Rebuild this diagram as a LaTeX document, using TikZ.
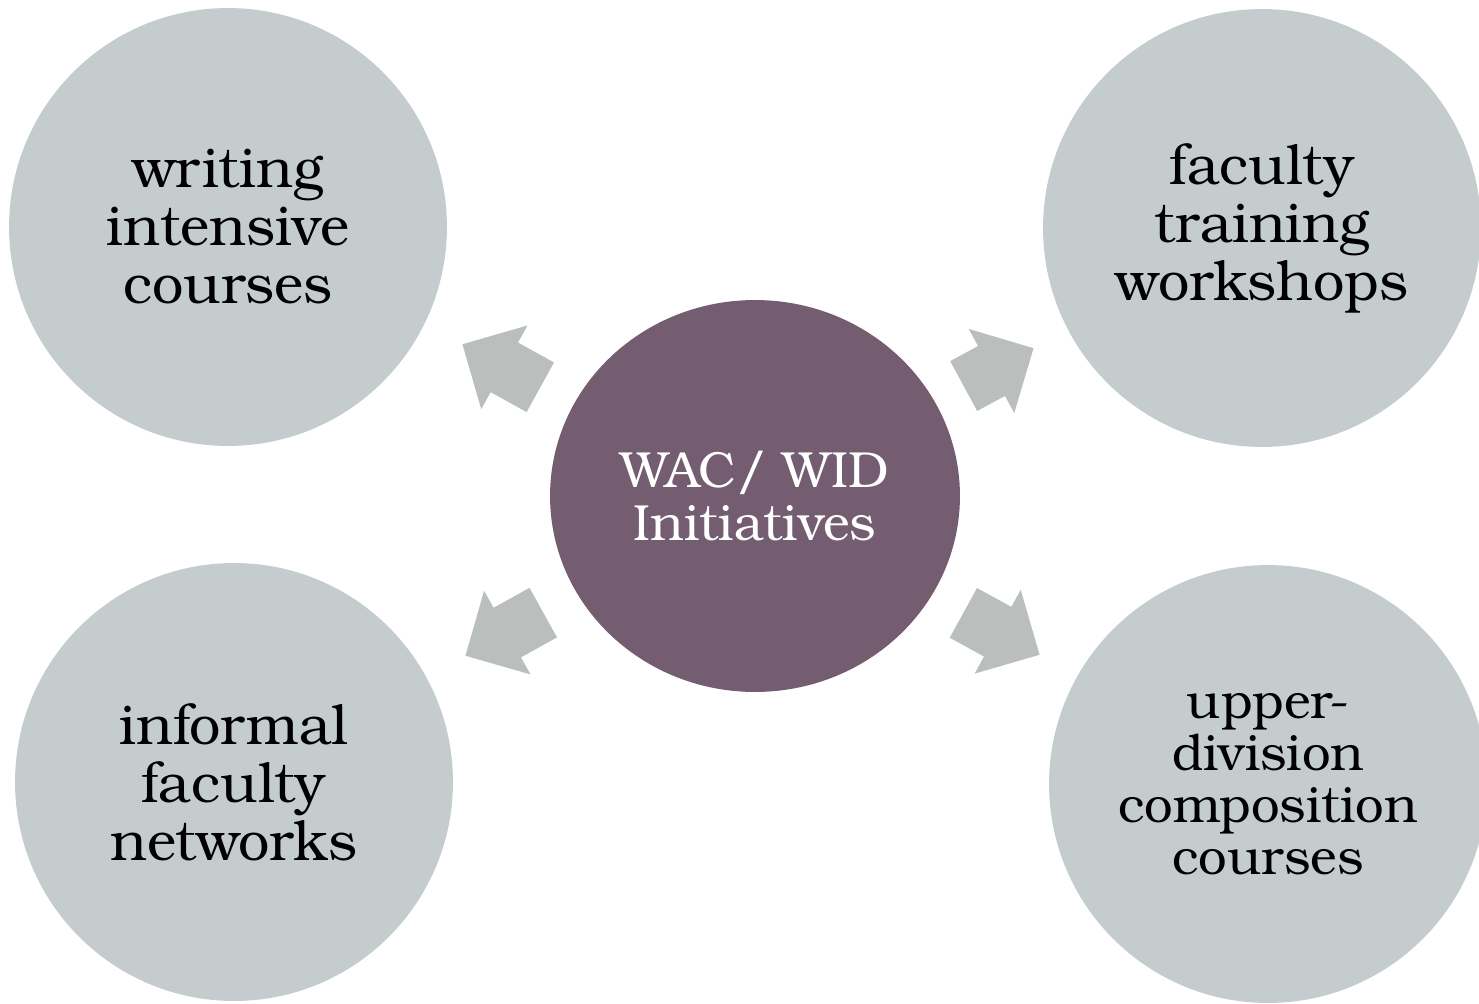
\documentclass[tikz,border=0pt]{standalone}
\usepackage{fontspec}
\setmainfont{TeX Gyre Bonum}
\usetikzlibrary{shapes.arrows,shapes.geometric}
\definecolor{circgrey}{HTML}{C4CCCD}
\definecolor{arrgrey}{HTML}{BABFBE}
\definecolor{hubpurple}{HTML}{745D71}
\begin{document}
\begin{tikzpicture}[x=0.02cm,y=-0.02cm,
  outer/.style={circle, fill=circgrey, minimum size=8.76cm, inner sep=0pt, align=center, font=\fontsize{31.7}{33}\selectfont},
  outersmall/.style={outer, font=\fontsize{28.9}{29.5}\selectfont},
  hub/.style={ellipse, fill=hubpurple, minimum width=8.2cm, minimum height=7.84cm, inner sep=0pt, align=center, text=white, font=\fontsize{28.9}{30.6}\selectfont},
  blockarrow/.style={single arrow, fill=arrgrey, draw=none, minimum height=1.78cm, minimum width=1.9cm,
    inner xsep=0pt, inner ysep=0.56cm, single arrow head extend=0.39cm, single arrow head indent=0pt, anchor=tip}
]
\useasboundingbox (0,0) rectangle (1479,1003);
\node[outer] (tl) at (228,227) {writing\\intensive\\courses};
\node[outer] (tr) at (1262,228) {faculty\\training\\workshops};
\node[outer] (bl) at (234,782) {informal\\faculty\\networks};
\node[outersmall] (br) at (1268,784) {upper-\\division\\composition\\courses};
\node[hub] (c) at (755,496) {WAC/ WID\\Initiatives};
\node[blockarrow, rotate=151.1] (atl) at (462,344) {};
\node[blockarrow, rotate=28.4, minimum height=1.59cm] (atr) at (1034,348) {};
\node[blockarrow, rotate=209] (abl) at (465,656) {};
\node[blockarrow, rotate=-28.8, minimum height=1.74cm] (abr) at (1040,655) {};
\end{tikzpicture}
\end{document}
